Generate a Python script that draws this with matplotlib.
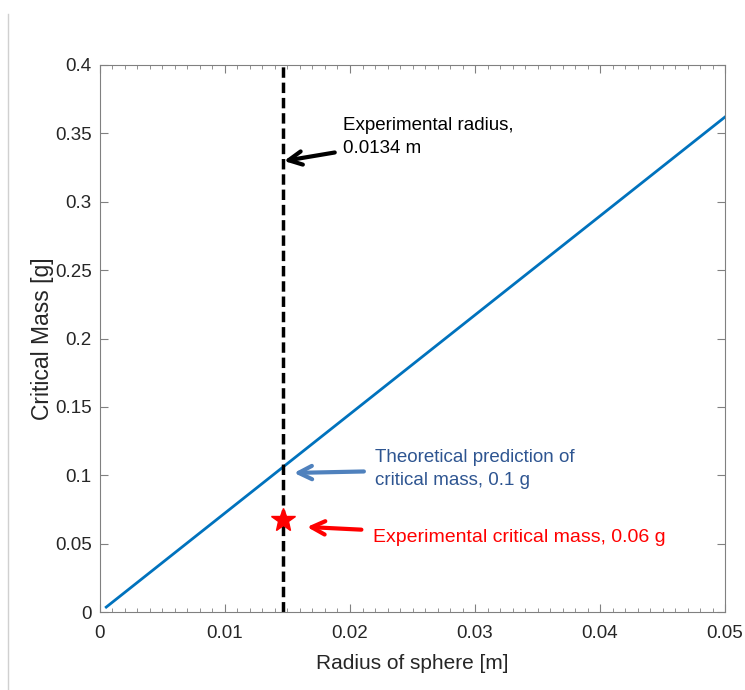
import matplotlib.pyplot as plt
from matplotlib.lines import Line2D
from matplotlib.ticker import MultipleLocator

plt.rcParams['font.family'] = ['Liberation Sans', 'DejaVu Sans']

# data
radius = [0.0005, 0.01, 0.02, 0.03, 0.04, 0.05]
mass = [0.0036, 0.0724, 0.1448, 0.2172, 0.2896, 0.362]
exp_radius = 0.01464
exp_mass = 0.0673

x_ticks = [0, 0.01, 0.02, 0.03, 0.04, 0.05]
x_labels = ['0', '0.01', '0.02', '0.03', '0.04', '0.05']
y_ticks = [0, 0.05, 0.1, 0.15, 0.2, 0.25, 0.3, 0.35, 0.4]
y_labels = ['0', '0.05', '0.1', '0.15', '0.2', '0.25', '0.3', '0.35', '0.4']

fig = plt.figure(figsize=(7.45, 6.9), dpi=100)
ax = fig.add_axes([0.1342, 0.1130, 0.8390, 0.7928])

ax.plot(radius, mass, color='#0072BD', lw=2)
ax.axvline(exp_radius, color='black', lw=2.5, ls=(0, (3, 1.4)))
ax.plot([exp_radius], [exp_mass], marker='*', color='red', ms=18, mec='red')

ax.set_xlim(0, 0.05)
ax.set_ylim(0, 0.4)
ax.set_xticks(x_ticks)
ax.set_xticklabels(x_labels)
ax.set_yticks(y_ticks)
ax.set_yticklabels(y_labels)
ax.xaxis.set_minor_locator(MultipleLocator(0.001))
ax.tick_params(which='both', direction='in', top=True, right=True,
               color='#808080', labelcolor='#262626', labelsize=13.5)
ax.tick_params(which='major', length=6)
ax.tick_params(which='minor', length=3)
ax.tick_params(axis='x', pad=9)
ax.tick_params(axis='y', pad=6)
for s in ax.spines.values():
    s.set_color('#808080')

ax.set_xlabel('Radius of sphere [m]', fontsize=15, color='#262626', labelpad=9)
ax.set_ylabel('Critical Mass [g]', fontsize=16.5, color='#262626', labelpad=1)

# annotations
ax.annotate('Experimental radius,\n0.0134 m', xy=(0.01472, 0.3298),
            xytext=(0.01944, 0.3475), fontsize=13.5, color='black',
            va='center', ha='left', linespacing=1.45,
            arrowprops=dict(arrowstyle='->', lw=3, color='black',
                            mutation_scale=24, shrinkA=4, shrinkB=0))
ax.annotate('Theoretical prediction of\ncritical mass, 0.1 g', xy=(0.01552, 0.1017),
            xytext=(0.0220, 0.1045), fontsize=13.5, color='#2E5591',
            va='center', ha='left', linespacing=1.45,
            arrowprops=dict(arrowstyle='->', lw=3, color='#4F81BD',
                            mutation_scale=24, shrinkA=6, shrinkB=0))
ax.annotate('Experimental critical mass, 0.06 g', xy=(0.01656, 0.0622),
            xytext=(0.0218, 0.0545), fontsize=14, color='red',
            va='center', ha='left',
            arrowprops=dict(arrowstyle='->', lw=3, color='red',
                            mutation_scale=24, shrinkA=6, shrinkB=0))

fig.add_artist(Line2D([0.0107, 0.0107], [0, 0.98], color='#d0d0d0', lw=1))

fig.savefig('out.png', dpi=100)
